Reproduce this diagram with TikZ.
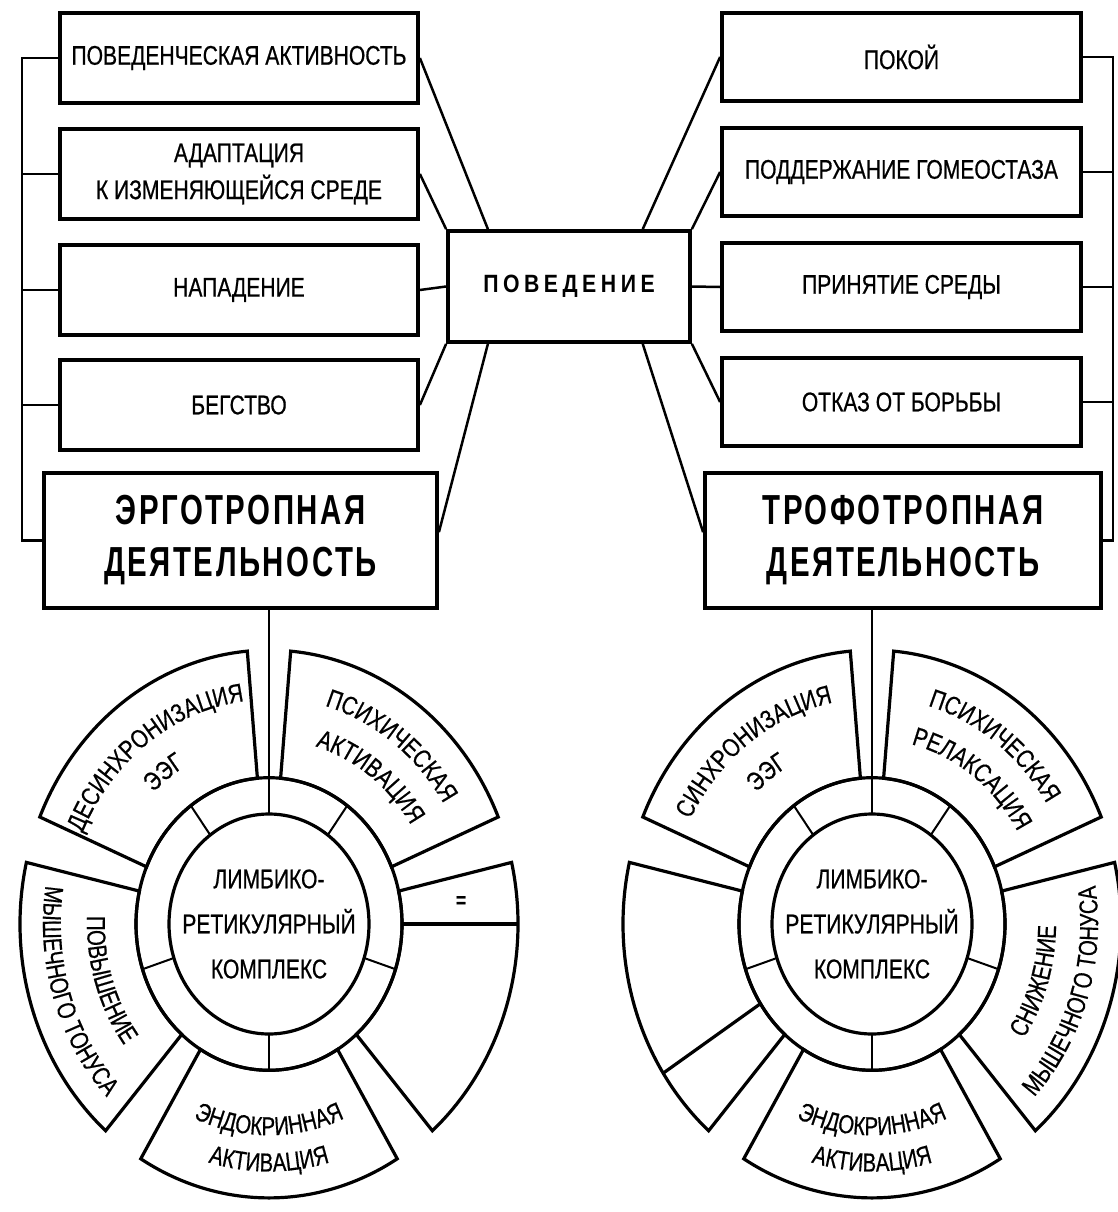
\documentclass[tikz,border=0pt]{standalone}
\usepackage{fontspec}
\setmainfont{Liberation Sans}
\newfontfamily\nf[FakeStretch=0.78,FakeBold=0.6]{Liberation Sans}
\newfontfamily\nfu[FakeStretch=0.8,FakeBold=0.6]{Liberation Sans}
\newfontfamily\povf[FakeStretch=0.85,LetterSpace=18]{Liberation Sans}
\newfontfamily\bigf[FakeStretch=0.7,LetterSpace=6]{Liberation Sans}
\usetikzlibrary{decorations.text,calc}
\newcommand\segf{\nf\fontsize{26}{30}\selectfont}
\newcommand\segu{\nfu\fontsize{26}{30}\selectfont}
\newcommand\uptext[3]{\path[decorate,decoration={text along path,text align=center,text={|\segu|#3}}] ({#1+42}:#2) arc[start angle={#1+42}, end angle={#1-42}, radius=#2];}
\newcommand\lowtext[3]{\path[decorate,decoration={text along path,text align=center,text={|\segf|#3}}] ({#1-42}:#2) arc[start angle={#1-42}, end angle={#1+42}, radius=#2];}
\newcommand\annseg[1]{\draw[seg] ({#1-31}:133) -- ({#1-31}:249) arc[start angle={#1-31}, end angle={#1+31}, radius=249] -- ({#1+31}:133) arc[start angle={#1+31}, end angle={#1-31}, radius=133] -- cycle;}
\begin{document}
\begin{tikzpicture}[x=1pt,y=-1pt,line join=miter,
  box/.style={draw, line width=3.8pt, minimum width=358pt, minimum height=90pt, inner sep=0pt, align=center, font=\nf\fontsize{27}{37}\selectfont},
  rbox/.style={box, minimum width=359pt, minimum height=88pt},
  bigbox/.style={draw, line width=3.8pt, minimum height=135pt, inner sep=0pt, align=center, font=\bigf\bfseries\fontsize{42}{52}\selectfont},
  povbox/.style={draw, line width=3.8pt, minimum width=242pt, minimum height=111pt, inner sep=0pt, font=\povf\bfseries\fontsize{25}{30}\selectfont},
  conn/.style={line width=2.5pt},
  seg/.style={line width=3.2pt},
  tick/.style={line width=2pt},
  core/.style={align=center, font=\nf\fontsize{27}{45}\selectfont}
]
\fill[white] (0,0) rectangle (1117,1212);
\useasboundingbox (0,0) rectangle (1117,1212);

% left boxes
\node[box] (b1) at (239,58) {ПОВЕДЕНЧЕСКАЯ АКТИВНОСТЬ};
\node[box] (b2) at (239,174) {АДАПТАЦИЯ\\К ИЗМЕНЯЮЩЕЙСЯ СРЕДЕ};
\node[box] (b3) at (239,290) {НАПАДЕНИЕ};
\node[box] (b4) at (239,405) {БЕГСТВО};
\node[bigbox, minimum width=393pt] (ergo) at (240.5,540.5) {ЭРГОТРОПНАЯ\\ДЕЯТЕЛЬНОСТЬ};
% centre
\node[povbox] (pov) at (569,286.5) {ПОВЕДЕНИЕ};
% right boxes
\node[rbox] (r1) at (901.5,57) {ПОКОЙ};
\node[rbox] (r2) at (901.5,172) {ПОДДЕРЖАНИЕ ГОМЕОСТАЗА};
\node[rbox] (r3) at (901.5,287) {ПРИНЯТИЕ СРЕДЫ};
\node[rbox] (r4) at (901.5,402) {ОТКАЗ ОТ БОРЬБЫ};
\node[bigbox, minimum width=396pt] (tropho) at (903,540.5) {ТРОФОТРОПНАЯ\\ДЕЯТЕЛЬНОСТЬ};

% buses
\coordinate (lbus) at (22,0);
\coordinate (rbus) at (1113,0);
\draw[conn] (b1.west) -- (b1.west -| lbus) -- (ergo.west -| lbus) -- (ergo.west);
\foreach \n in {b2,b3,b4} \draw[conn] (\n.west) -- (\n.west -| lbus);
\draw[conn] (r1.east) -- (r1.east -| rbus) -- (tropho.east -| rbus) -- (tropho.east);
\foreach \n in {r2,r3,r4} \draw[conn] (\n.east) -- (\n.east -| rbus);

% connectors to ПОВЕДЕНИЕ
\draw[conn] (b1.east) -- ($(pov.north west)!0.17!(pov.north east)$);
\draw[conn] (b2.east) -- (pov.north west);
\draw[conn] (b3.east) -- (pov.west);
\draw[conn] (b4.east) -- (pov.south west);
\draw[conn] ($(ergo.north east)!0.44!(ergo.south east)$) -- ($(pov.south west)!0.17!(pov.south east)$);
\draw[conn] (r1.west) -- ($(pov.north west)!0.8!(pov.north east)$);
\draw[conn] (r2.west) -- (pov.north east);
\draw[conn] (r3.west) -- (pov.east);
\draw[conn] (r4.west) -- (pov.south east);
\draw[conn] ($(tropho.north west)!0.44!(tropho.south west)$) -- ($(pov.south west)!0.8!(pov.south east)$);

% left circle
\begin{scope}[shift={(269,924)}, x=1pt, y=1.1pt]
  \draw[seg] (0,0) circle[radius=100];
  \draw[seg] (0,0) circle[radius=133];
  \coordinate (ltop) at (90:100);
  \foreach \a in {54,126,198,270,342} \draw[tick] (\a:100) -- (\a:133);
  \foreach \c in {54,126,198,270,342} {\annseg{\c}}
  \draw[seg] (0:133) -- (0:249);
  \node[font=\nf\bfseries\fontsize{22}{22}\selectfont] (leq) at (6:193) {=};
  \node[core] (lcore) at (0,0) {ЛИМБИКО-\\РЕТИКУЛЯРНЫЙ\\КОМПЛЕКС};
  \uptext{126}{204}{ДЕСИНХРОНИЗАЦИЯ}
  \uptext{126}{166}{ЭЭГ}
  \uptext{54}{206}{ПСИХИЧЕСКАЯ}
  \uptext{54}{168}{АКТИВАЦИЯ}
  \lowtext{198}{182}{ПОВЫШЕНИЕ}
  \lowtext{198}{226}{МЫШЕЧНОГО ТОНУСА}
  \lowtext{270}{192}{ЭНДОКРИННАЯ}
  \lowtext{270}{225}{АКТИВАЦИЯ}
\end{scope}

% right circle
\begin{scope}[shift={(872,924)}, x=1pt, y=1.1pt]
  \draw[seg] (0,0) circle[radius=100];
  \draw[seg] (0,0) circle[radius=133];
  \coordinate (rtop) at (90:100);
  \foreach \a in {54,126,198,270,342} \draw[tick] (\a:100) -- (\a:133);
  \foreach \c in {54,126,198,270,342} {\annseg{\c}}
  \draw[seg] (213:133) -- (213:249);
  \node[core] (rcore) at (0,0) {ЛИМБИКО-\\РЕТИКУЛЯРНЫЙ\\КОМПЛЕКС};
  \uptext{126}{205}{СИНХРОНИЗАЦИЯ}
  \uptext{126}{166}{ЭЭГ}
  \uptext{54}{206}{ПСИХИЧЕСКАЯ}
  \uptext{54}{168}{РЕЛАКСАЦИЯ}
  \lowtext{342}{184}{СНИЖЕНИЕ}
  \lowtext{342}{226}{МЫШЕЧНОГО ТОНУСА}
  \lowtext{270}{192}{ЭНДОКРИННАЯ}
  \lowtext{270}{225}{АКТИВАЦИЯ}
\end{scope}

\draw[conn] (ltop |- ergo.south) -- (ltop);
\draw[conn] (rtop |- tropho.south) -- (rtop);
\end{tikzpicture}
\end{document}
